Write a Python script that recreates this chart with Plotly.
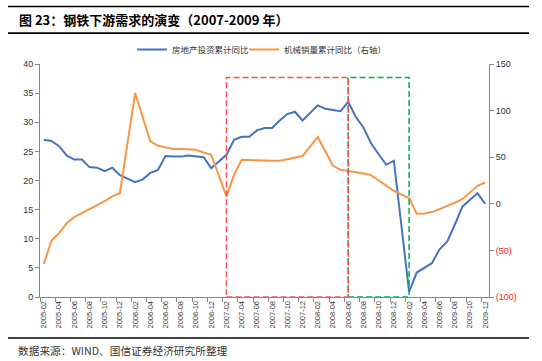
import plotly.graph_objects as go

categories = [
    "2005-02", "2005-03", "2005-04", "2005-05", "2005-06", "2005-07", "2005-08", "2005-09", "2005-10", "2005-11", "2005-12",
    "2006-01", "2006-02", "2006-03", "2006-04", "2006-05", "2006-06", "2006-07", "2006-08", "2006-09", "2006-10", "2006-11", "2006-12",
    "2007-01", "2007-02", "2007-03", "2007-04", "2007-05", "2007-06", "2007-07", "2007-08", "2007-09", "2007-10", "2007-11", "2007-12",
    "2008-01", "2008-02", "2008-03", "2008-04", "2008-05", "2008-06", "2008-07", "2008-08", "2008-09", "2008-10", "2008-11", "2008-12",
    "2009-01", "2009-02", "2009-03", "2009-04", "2009-05", "2009-06", "2009-07", "2009-08", "2009-09", "2009-10", "2009-11", "2009-12",
]

# 房地产投资累计同比 (left axis, %)
real_estate = [
    27.0, 26.8, 25.9, 24.3, 23.6, 23.6, 22.3, 22.2, 21.6, 22.2, 20.9,
    None, 19.7, 20.2, 21.3, 21.8, 24.2, 24.1, 24.1, 24.3, 24.1, 24.0, 22.1,
    None, 24.4, 27.0, 27.5, 27.5, 28.6, 29.0, 29.0, 30.3, 31.4, 31.8, 30.3,
    None, 32.9, 32.3, 32.1, 31.9, 33.5, 30.9, 29.1, 26.4, 24.5, 22.7, 23.4,
    None, 0.9, 4.2, 5.0, 5.8, 8.2, 9.5, 12.4, 15.5, 16.7, 17.8, 16.0,
]

# 机械销量累计同比 (right axis, %)
machinery = [
    -64.4, -39.7, -31.5, -20.7, -14.3, -10.0, -6.4, -1.8, 2.9, 7.9, 11.4,
    None, 118.8, 93.7, 66.9, 62.2, 60.4, 58.7, 58.9, 58.3, 57.9, 55.0, 52.6,
    None, 7.9, 31.1, 47.2, 47.2, 46.5, 46.5, 46.1, 46.1, 47.9, 49.7, 51.2,
    None, 71.5, 56.1, 40.8, 36.5, 35.4, 34.3, 32.5, 30.8, 25.0, 19.3, 13.9,
    None, 6.1, -10.7, -10.4, -8.9, -5.7, -2.5, 1.1, 5.0, 12.2, 19.3, 22.9,
]

left_ticks = [0, 5, 10, 15, 20, 25, 30, 35, 40]
right_ticks = [-100, -50, 0, 50, 100, 150]
right_ticktext = ['<span style="color:#FF2020">(100)</span>', '<span style="color:#FF2020">(50)</span>',
                  "0", "50", "100", "150"]

red_box = ("2007-02", "2008-06")
green_box = ("2008-06", "2009-02")
box_top = 37.7

title_text = "<b>图 23：钢铁下游需求的演变（2007-2009 年）</b>"
source_text = "数据来源：WIND、国信证券经济研究所整理"

BLUE = "#4472C4"
ORANGE = "#F79646"
CJK = "Noto Sans CJK SC"
LAT = "Liberation Sans, Arial, sans-serif"

W, H = 542, 361
# paper spans the framed region (between the top and bottom rules)
ML, MR, MT, MB = 8, 13, 6, 23
PW, PH = W - ML - MR, H - MT - MB
# plot area in pixels
PLOT_L, PLOT_R, PLOT_T, PLOT_B = 40, 489, 64, 297


def px_x(px):
    return (px - ML) / PW


def px_y(py):
    return (H - MB - py) / PH


x_domain = [px_x(PLOT_L), px_x(PLOT_R)]
y_domain = [px_y(PLOT_B), px_y(PLOT_T)]

fig = go.Figure()
fig.add_trace(go.Scatter(x=categories, y=real_estate, name="房地产投资累计同比", mode="lines",
                         line=dict(color=BLUE, width=2), connectgaps=True, yaxis="y", legend="legend"))
fig.add_trace(go.Scatter(x=categories, y=machinery, name="机械销量累计同比（右轴）", mode="lines",
                         line=dict(color=ORANGE, width=2), connectgaps=True, yaxis="y2", legend="legend2"))

shapes = []
for (a, b), col in ((green_box, "#00B050"), (red_box, "#FF5050")):
    shapes.append(dict(type="rect", xref="x", yref="y",
                       x0=categories.index(a), x1=categories.index(b), y0=0, y1=box_top,
                       line=dict(color=col, width=1.5, dash="6px,3px"), fillcolor="rgba(0,0,0,0)"))
# horizontal rules (top, under title, bottom)
rule_rows = (6.5, 33, 338)
for py in rule_rows:
    shapes.append(dict(type="line", xref="paper", yref="paper", layer="above",
                       x0=px_x(8), x1=px_x(529), y0=px_y(py), y1=px_y(py),
                       line=dict(color="#000000", width=1.4)))

annotations = [
    dict(text=title_text, xref="paper", yref="paper", x=px_x(17), y=px_y(20),
         xanchor="left", yanchor="middle", showarrow=False,
         font=dict(family=CJK, size=13, color="black")),
    dict(text=source_text, xref="paper", yref="paper", x=px_x(16), y=px_y(350),
         xanchor="left", yanchor="middle", showarrow=False,
         font=dict(family=CJK, size=10.7, color="#333333")),
]
# backup rendering of the two upper rules as thin filled annotation boxes
for py in rule_rows[:2]:
    annotations.append(dict(text=" ", xref="paper", yref="paper", x=px_x(8), y=px_y(py),
                            xanchor="left", yanchor="middle", showarrow=False,
                            width=521, height=1, borderpad=0, borderwidth=0,
                            bgcolor="#000000", font=dict(size=1, color="#000000")))

legend_common = dict(orientation="h", xanchor="left", yanchor="top",
                     font=dict(family=CJK, size=8.5, color="#333333"), bgcolor="rgba(0,0,0,0)",
                     itemwidth=30, tracegroupgap=0)

fig.update_layout(
    width=W, height=H,
    margin=dict(l=ML, r=MR, t=MT, b=MB, autoexpand=False),
    paper_bgcolor="white", plot_bgcolor="white",
    font=dict(family=LAT, size=9, color="#333333"),
    showlegend=True,
    legend=dict(x=px_x(132), y=px_y(35), **legend_common),
    legend2=dict(x=px_x(244), y=px_y(35), **legend_common),
    xaxis=dict(domain=x_domain, type="category", categoryorder="array", categoryarray=categories,
               range=[-0.5, len(categories) - 0.5], tickmode="linear", tick0=0, dtick=2,
               tickangle=-90, tickfont=dict(family=LAT, size=7.5, color="#333333"),
               ticks="outside", tickson="boundaries", ticklen=4, tickcolor="#868686",
               showline=True, linecolor="#868686", linewidth=1, showgrid=False, zeroline=False,
               automargin=False),
    yaxis=dict(domain=y_domain, range=[0, 40], tickvals=left_ticks, ticks="outside", ticklen=4,
               tickcolor="#868686", showline=True, linecolor="#868686", linewidth=1, showgrid=False,
               zeroline=False, tickfont=dict(family=LAT, size=9, color="#333333"), automargin=False),
    yaxis2=dict(range=[-100, 150], tickvals=right_ticks, ticktext=right_ticktext, overlaying="y",
                side="right", ticks="outside", ticklen=4, tickcolor="#868686",
                showline=True, linecolor="#868686", linewidth=1, showgrid=False, zeroline=False,
                tickfont=dict(family=LAT, size=9, color="#333333"), automargin=False),
    shapes=shapes,
    annotations=annotations,
)

fig.write_html("out.html", config={"displayModeBar": False},
               post_script="document.body.style.margin='0px';document.body.style.overflow='hidden';")
